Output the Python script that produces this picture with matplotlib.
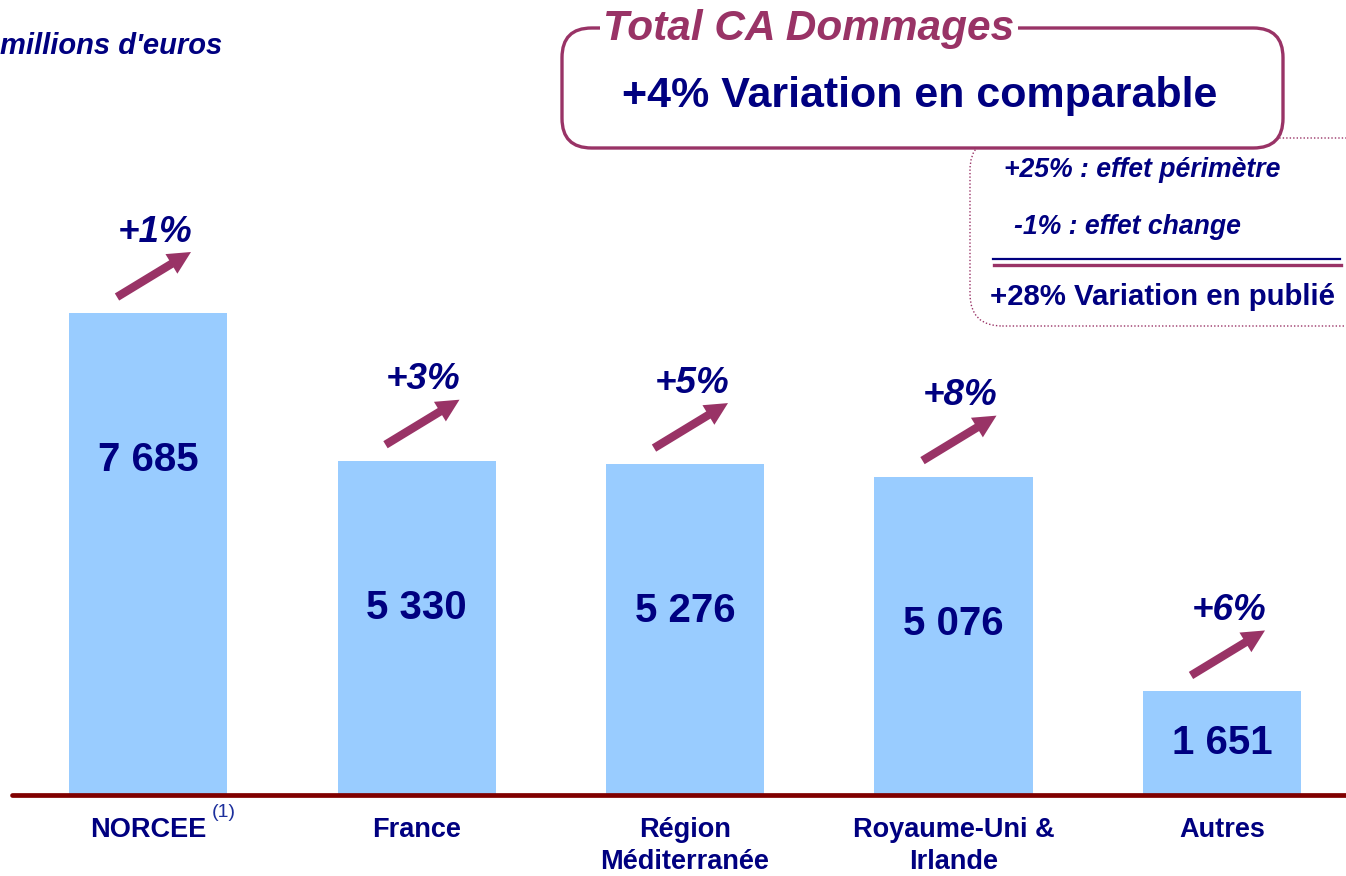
import matplotlib
matplotlib.use("Agg")
import matplotlib.pyplot as plt
from matplotlib.patches import FancyBboxPatch
from matplotlib.transforms import offset_copy
from matplotlib.lines import Line2D

plt.rcParams['font.family'] = ['Liberation Sans', 'DejaVu Sans']

categories = ["NORCEE", "France", "Région\nMéditerranée", "Royaume-Uni &\nIrlande", "Autres"]
values = [7685, 5330, 5276, 5076, 1651]
value_labels = ["7 685", "5 330", "5 276", "5 076", "1 651"]
growth = ["+1%", "+3%", "+5%", "+8%", "+6%"]

title = "Total CA Dommages"
headline = "+4% Variation en comparable"
detail_lines = ["+25% : effet périmètre", "-1% : effet change"]
published = "+28% Variation en publié"
unit_label = "millions d'euros"

NAVY = "#000080"
PLUM = "#993366"
BAR = "#99CCFF"
BASE = "#800000"

W, H = 1346, 876
fig = plt.figure(figsize=(W / 100, H / 100), dpi=100)
ax = fig.add_axes([0, 0, 1, 1])
ax.set_axis_off()

# pixel mapping: bar centres at 148 + 268.5*i, baseline at 795 px from top
spacing = 268.5
ax.set_xlim(-148 / spacing, (W - 148) / spacing)
scale = 482 / 7685.0
ax.set_ylim(-(H - 795) / scale, 795 / scale)

xs = list(range(len(values)))
ax.bar(xs, values, width=158 / spacing, color=BAR, zorder=2)

# baseline
ax.axhline(0, xmin=12 / W, xmax=1.0, color=BASE, lw=3.4, zorder=3, solid_capstyle='round')

def off(dx, dy):
    return offset_copy(ax.transData, fig=fig, x=dx, y=dy, units='dots')

for i, v in enumerate(values):
    # value label
    ly = v - 147 / scale
    if ly < v / 2:
        ly = v / 2
    ax.text(i, ly, value_labels[i], ha='center', va='center', fontsize=29,
            fontweight='bold', color=NAVY, zorder=4)
    # arrow
    ax.annotate('', xy=(i, v), xycoords=off(43, 61), xytext=(i, v),
                textcoords=off(-31, 16),
                arrowprops=dict(arrowstyle='simple,head_length=1.65,head_width=1.65,tail_width=0.6',
                                mutation_scale=10, color=PLUM, shrinkA=0, shrinkB=0, lw=0),
                zorder=4)
    # growth label
    ax.text(i, v, growth[i], transform=off(7, 81), ha='center', va='center',
            fontsize=26.5, fontweight='bold', fontstyle='italic', color=NAVY, zorder=4)
    # category label
    ax.text(i, 0, categories[i], transform=off(0, -22), ha='center', va='top',
            fontsize=19.5, fontweight='bold', color=NAVY, linespacing=1.28, zorder=4)

# superscript for NORCEE
ax.text(0, 0, "(1)", transform=off(64, -9), ha='left', va='top',
        fontsize=14, color="#1c2f9c", zorder=4)

def fx(px):
    return px / W

def fy(py):
    return 1 - py / H

# unit label
fig.text(fx(0), fy(46), unit_label, ha='left', va='center', fontsize=21,
         fontweight='bold', fontstyle='italic', color=NAVY)

# dotted detail box (behind)
box2 = FancyBboxPatch((fx(970), fy(326)), fx(1400) - fx(970), fy(138) - fy(326),
                      boxstyle="round,pad=0,rounding_size=0.024",
                      transform=fig.transFigure, facecolor='white', edgecolor=PLUM,
                      lw=1.0, linestyle=(0, (1, 1.5)), zorder=1, mutation_aspect=W / H)
fig.patches.append(box2)

# main title box
box1 = FancyBboxPatch((fx(562), fy(148)), fx(1283) - fx(562), fy(28) - fy(148),
                      boxstyle="round,pad=0,rounding_size=0.022",
                      transform=fig.transFigure, facecolor='white', edgecolor=PLUM,
                      lw=2.4, zorder=2, mutation_aspect=W / H)
fig.patches.append(box1)

fig.text(fx(809), fy(29), title, ha='center', va='center', fontsize=30.5,
         fontweight='bold', fontstyle='italic', color=PLUM,
         bbox=dict(facecolor='white', edgecolor='none', pad=2), zorder=5)
fig.text(fx(920), fy(96), headline, ha='center', va='center', fontsize=31,
         fontweight='bold', color=NAVY, zorder=5)

fig.text(fx(1142), fy(170), detail_lines[0], ha='center', va='center', fontsize=19.2,
         fontweight='bold', fontstyle='italic', color=NAVY, zorder=5)
fig.text(fx(1127), fy(227), detail_lines[1], ha='center', va='center', fontsize=19.2,
         fontweight='bold', fontstyle='italic', color=NAVY, zorder=5)
fig.lines.append(Line2D([fx(993), fx(1340)], [fy(259), fy(259)], transform=fig.transFigure,
                        color=NAVY, lw=1.6, zorder=5))
fig.lines.append(Line2D([fx(994), fx(1341)], [fy(265), fy(265)], transform=fig.transFigure,
                        color=PLUM, lw=2.4, zorder=5))
fig.text(fx(1163), fy(297), published, ha='center', va='center', fontsize=21.2,
         fontweight='bold', color=NAVY, zorder=5)

fig.savefig("out.png", dpi=100)
